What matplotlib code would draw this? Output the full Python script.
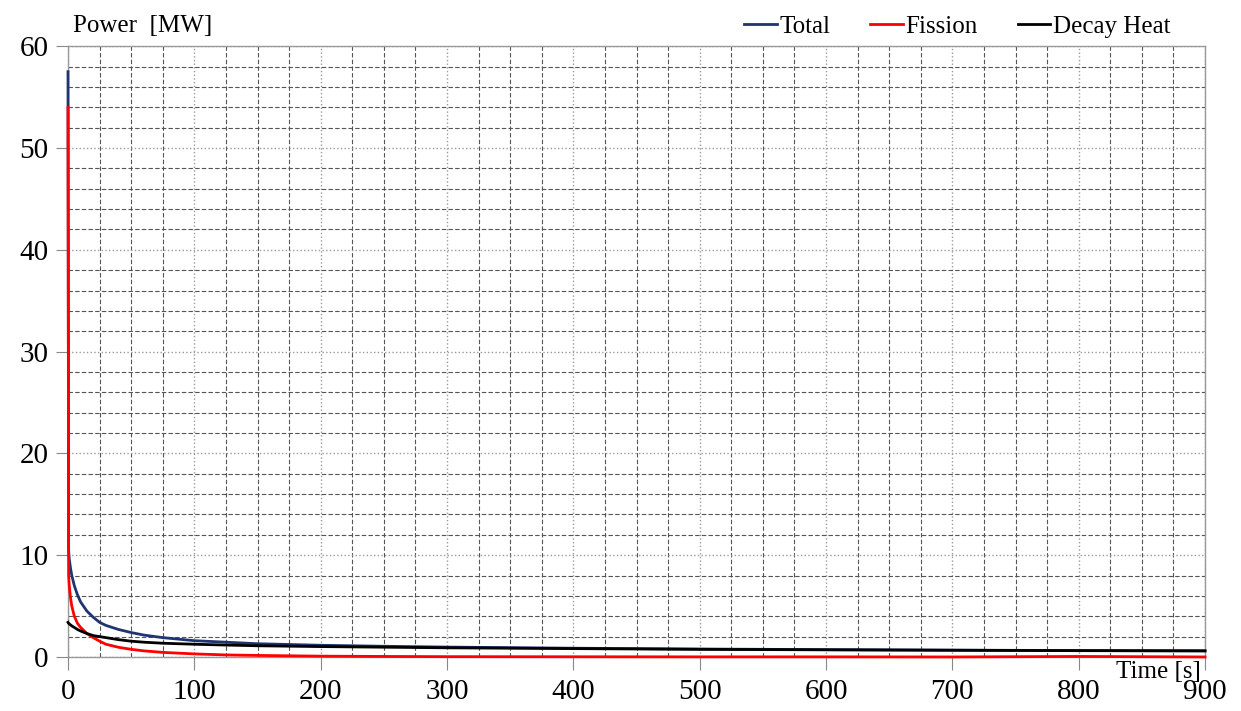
import numpy as np
import matplotlib.pyplot as plt
from matplotlib.ticker import MultipleLocator

plt.rcParams['font.family'] = ['Liberation Serif', 'DejaVu Serif']

# Time [s] and power [MW]
t = [0, 0.5, 1, 2, 3, 5, 7.5, 10, 15, 20, 25, 30, 40, 50, 60, 75, 100,
     125, 150, 200, 250, 300, 400, 500, 600, 700, 800, 900]
total = [57.5, 10.5, 9.6, 8.7, 8.0, 7.0, 6.1, 5.4, 4.5, 3.9, 3.4, 3.1, 2.7,
         2.4, 2.15, 1.9, 1.6, 1.45, 1.3, 1.15, 1.05, 0.97, 0.86, 0.78, 0.72,
         0.67, 0.63, 0.6]
fission = [54.0, 8.0, 7.0, 5.8, 5.0, 4.0, 3.3, 2.9, 2.3, 1.9, 1.55, 1.25,
           0.95, 0.75, 0.6, 0.45, 0.3, 0.2, 0.15, 0.08, 0.05, 0.03, 0.02,
           0.01, 0.01, 0.0, 0.05, 0.0]
decay = [3.4, 3.3, 3.25, 3.15, 3.05, 2.9, 2.7, 2.55, 2.3, 2.1, 2.0, 1.9, 1.7,
         1.55, 1.45, 1.35, 1.25, 1.17, 1.1, 1.02, 0.96, 0.9, 0.82, 0.75, 0.7,
         0.66, 0.62, 0.6]

fig = plt.figure(figsize=(12.41, 7.11), dpi=100)
ax = fig.add_axes([0.0548, 0.076, 0.9162, 0.859])

ax.plot(t, total, color='#1f3470', lw=2.0, label='Total', clip_on=False, zorder=3)
ax.plot(t, fission, color='#ff0000', lw=2.0, label='Fission', clip_on=False, zorder=3)
ax.plot(t, decay, color='black', lw=2.0, label='Decay Heat', clip_on=False, zorder=3)

ax.set_xlim(0, 900)
ax.set_ylim(0, 60)
ax.xaxis.set_major_locator(MultipleLocator(100))
ax.xaxis.set_minor_locator(MultipleLocator(25))
ax.yaxis.set_major_locator(MultipleLocator(10))
ax.yaxis.set_minor_locator(MultipleLocator(2))

ax.grid(which='major', color='#9a9a9a', ls=':', lw=1.0)
ax.grid(which='minor', color='#555555', ls=(0, (4, 2)), lw=0.8)
ax.tick_params(which='major', direction='out', length=9, color='#888888',
               labelsize=21)
ax.tick_params(axis='x', pad=7)
ax.tick_params(axis='y', pad=5)
ax.tick_params(which='minor', length=0)
for s in ax.spines.values():
    s.set_color('#999999')
    s.set_linewidth(1.0)

fig.text(0.059, 0.948, 'Power  [MW]', fontsize=18, ha='left', va='bottom')
fig.text(0.968, 0.055, 'Time [s]', fontsize=18, ha='right', va='center')

fig.legend(loc='upper right', bbox_to_anchor=(0.961, 1.01), ncol=3,
           frameon=False, fontsize=18, handlelength=1.3, handletextpad=0.1,
           columnspacing=1.6)

plt.savefig('out.png', dpi=100)
